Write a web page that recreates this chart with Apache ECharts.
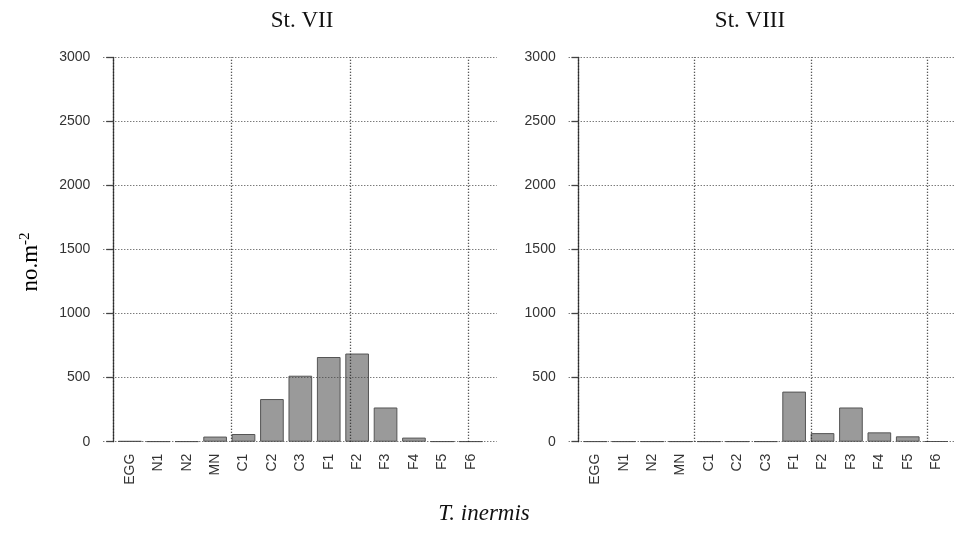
<!DOCTYPE html>
<html>
<head>
<meta charset="UTF-8">
<title>T. inermis</title>
<script src="https://cdn.jsdelivr.net/npm/echarts@6/dist/echarts.min.js"></script>
<style>
  body { margin: 0; background: #fff; }
</style>
</head>
<body>
    <div id="main" style="width: 955px; height: 533px;"></div>
    <script>
        // stages and densities (no.m-2) per station
        var stages = ['EGG', 'N1', 'N2', 'MN', 'C1', 'C2', 'C3', 'F1', 'F2', 'F3', 'F4', 'F5', 'F6'];
        var st7 = [5, 2, 2, 40, 60, 333, 515, 661, 688, 267, 32, 2, 2];
        var st8 = [2, 2, 2, 2, 2, 2, 2, 391, 67, 267, 73, 42, 3];
        var yTicks = [0, 500, 1000, 1500, 2000, 2500, 3000];
        var xGrid = [0, 5, 10, 15];

        var myChart = echarts.init(document.getElementById('main'));

        // R-style barplot coordinates: bar width 1, space 0.2
        var xlim = [-0.424, 16.2];
        var unit = 23.67;
        var plotTop = 57.3, plotHeight = 384.4;
        var panels = [
            { name: 'St. VII', plotLeft: 103.3, titleX: 297, data: st7 },
            { name: 'St. VIII', plotLeft: 568.7, titleX: 745, data: st8 }
        ];

        var grids = [], xAxes = [], yAxes = [], series = [], titles = [];
        var sans = 'Liberation Sans, Arial, sans-serif';
        var serif = 'Liberation Serif, Times New Roman, serif';

        panels.forEach(function (p, i) {
            var fg = grids.length;
            // frame grid: axis + gridlines
            grids.push({ left: p.plotLeft, width: (xlim[1] - xlim[0]) * unit, top: plotTop, height: plotHeight });
            // bar grid: categories spanning [0.1, 15.7]
            grids.push({ left: p.plotLeft + (0.1 - xlim[0]) * unit, width: stages.length * 1.2 * unit, top: plotTop, height: plotHeight });

            xAxes.push({ gridIndex: fg, type: 'value', min: xlim[0], max: xlim[1], show: false });
            yAxes.push({
                gridIndex: fg, type: 'value', min: yTicks[0], max: yTicks[yTicks.length - 1], interval: 500, z: 3,
                axisLine: { show: true, lineStyle: { color: '#444', width: 1.3 } },
                axisTick: { show: true, length: 7, lineStyle: { color: '#444', width: 1.3 } },
                axisLabel: {
                    margin: 13, color: '#333', fontSize: 14, fontFamily: sans,
                    formatter: function (v) { return String(v); }
                },
                splitLine: { show: true, lineStyle: { color: '#444', type: [1, 2], width: 1.2 } }
            });

            xAxes.push({
                gridIndex: fg + 1, type: 'category', data: stages,
                axisLine: { show: false }, axisTick: { show: false },
                axisLabel: { rotate: 90, margin: 12, color: '#333', fontSize: 14, fontFamily: sans, interval: 0 }
            });
            yAxes.push({ gridIndex: fg + 1, type: 'value', min: 0, max: 3000, show: false });

            series.push({
                type: 'bar', xAxisIndex: fg + 1, yAxisIndex: fg + 1,
                data: p.data, barWidth: (100 / 1.2) + '%', z: 2,
                itemStyle: { color: '#9a9a9a', borderColor: '#555', borderWidth: 1 },
                silent: true
            });
            series.push({
                type: 'line', xAxisIndex: fg, yAxisIndex: fg, data: [], z: 4, silent: true,
                markLine: {
                    symbol: 'none', silent: true, label: { show: false },
                    lineStyle: { color: '#222', type: [1, 2], width: 1.3 },
                    data: xGrid.map(function (v) { return { xAxis: v }; })
                }
            });

            titles.push({
                text: p.name, left: p.titleX, top: 4, textAlign: 'center',
                textStyle: { fontFamily: serif, fontWeight: 'normal', fontSize: 23, color: '#111' }
            });
        });

        titles.push({
            text: 'T. inermis', left: 479, top: 497, textAlign: 'center',
            textStyle: { fontFamily: serif, fontStyle: 'italic', fontWeight: 'normal', fontSize: 23, color: '#111' }
        });

        var option = {
            animation: false,
            title: titles,
            grid: grids,
            xAxis: xAxes,
            yAxis: yAxes,
            series: series,
            graphic: [{
                type: 'text', x: 30, y: 262, rotation: Math.PI / 2,
                style: {
                    text: '{a|no.m}{b|-2}',
                    align: 'center', verticalAlign: 'middle',
                    rich: {
                        a: { fontFamily: serif, fontSize: 23, color: '#111', lineHeight: 24, verticalAlign: 'bottom' },
                        b: { fontFamily: serif, fontSize: 15, color: '#111', lineHeight: 15, verticalAlign: 'top' }
                    }
                }
            }]
        };

        myChart.setOption(option);
    </script>
</body>
</html>
